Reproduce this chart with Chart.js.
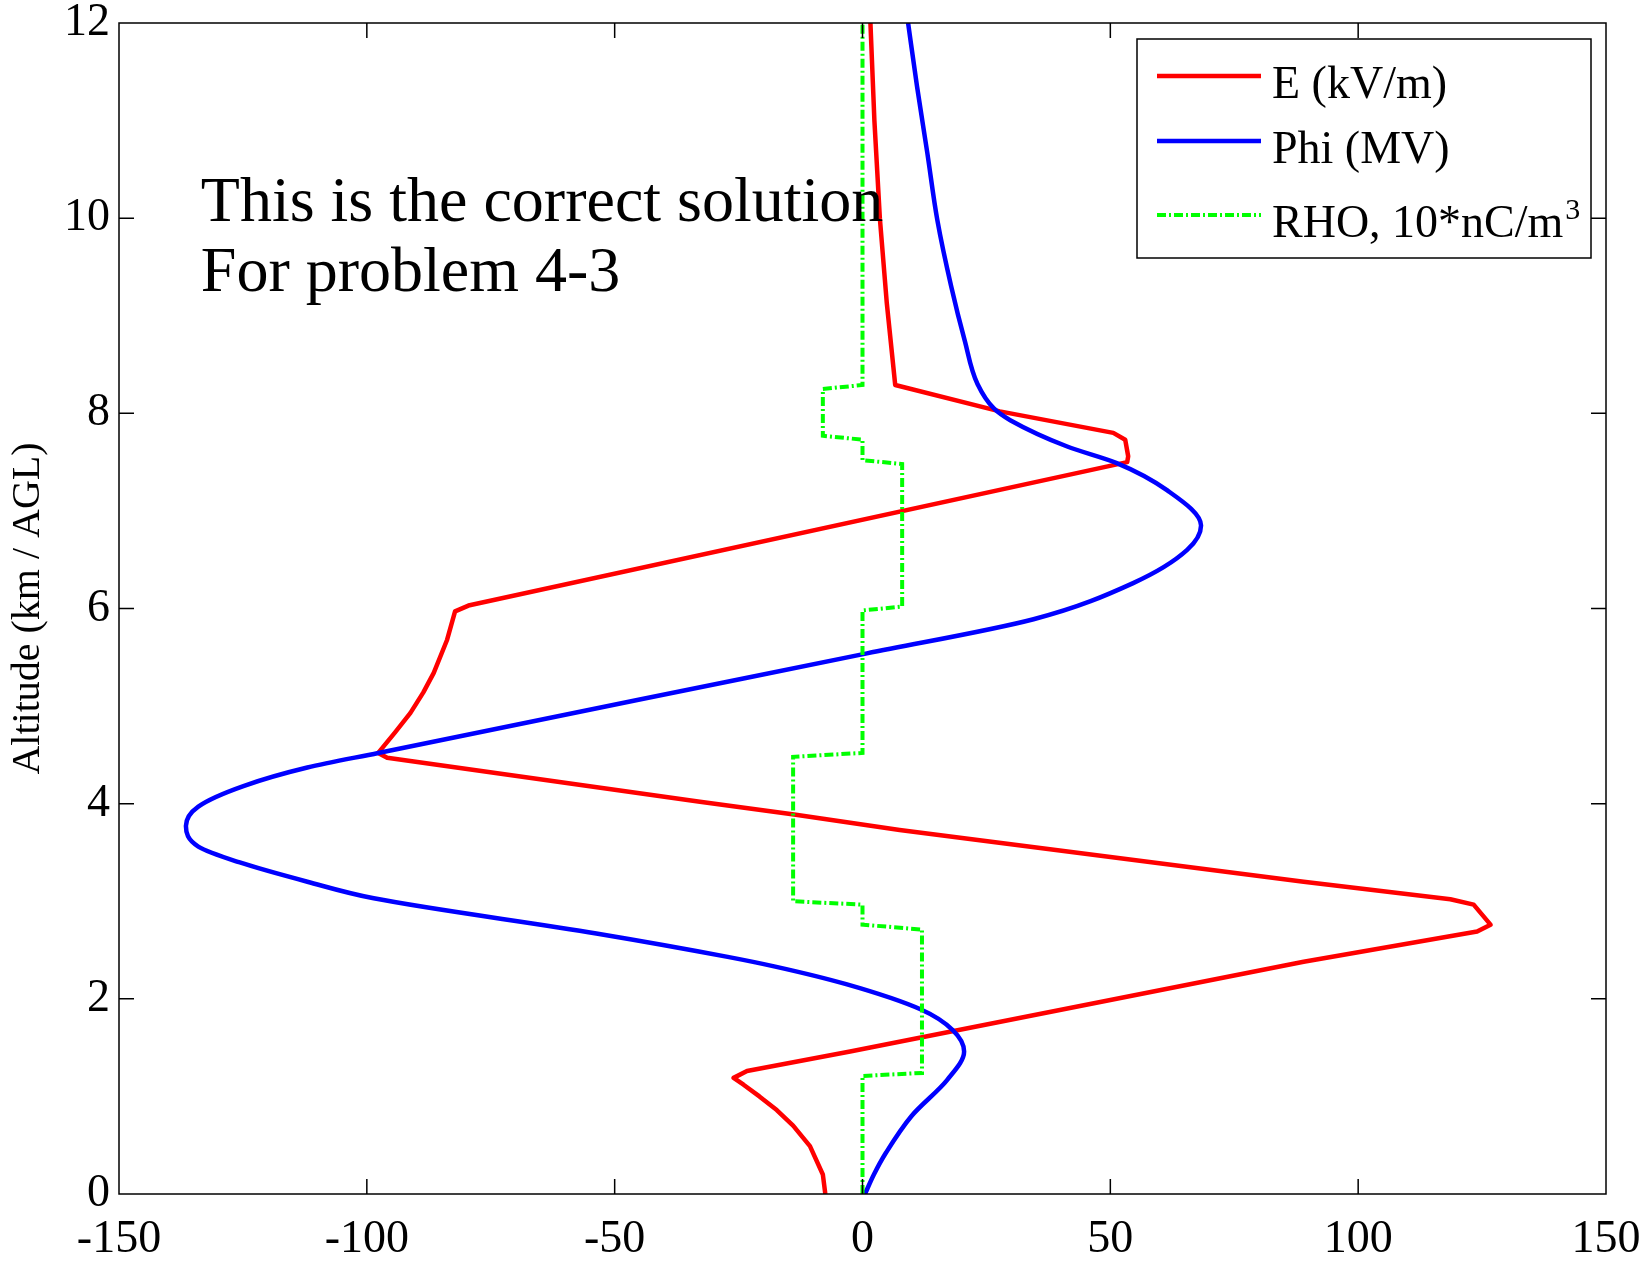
<!DOCTYPE html>
<html>
<head>
<meta charset="utf-8">
<title>Problem 4-3</title>
<script src="https://cdn.jsdelivr.net/npm/chart.js@4.4.1/dist/chart.umd.min.js"></script>
<style>
  html, body { margin: 0; padding: 0; background: #fff; }
  canvas { display: block; }
</style>
</head>
<body>
<canvas id="field_chart" width="1650" height="1263"></canvas>
<script>
// ---------- values (altitude in km / value on x) ----------
const eAlt = [0, 0.2, 0.49, 0.7, 0.86, 1.0, 1.12, 1.19, 1.26, 1.46, 2.38, 2.69, 2.76, 2.965, 3.02, 3.2, 3.73, 3.89, 4.02, 4.47, 4.52, 4.73, 4.93, 5.14, 5.34, 5.68, 5.97, 6.03, 7.5, 7.56, 7.73, 7.8, 8.02, 8.29, 9.13, 10, 11, 12];
const eVal = [-7.5, -8.0, -10.6, -14.0, -17.3, -20.8, -24.0, -26.0, -23.3, -2.5, 89.0, 124.0, 126.7, 123.3, 118.6, 89.0, 7.5, -13.8, -32.8, -95.9, -97.7, -94.3, -91.2, -88.6, -86.5, -83.8, -82.2, -79.5, 53.4, 53.6, 53.0, 50.6, 27.7, 6.6, 4.9, 3.5, 2.4, 1.6];

const phiAlt = [0, 0.2, 0.42, 0.8, 1.17, 1.46, 1.68, 1.89, 2.15, 2.33, 2.43, 2.67, 3.03, 3.2, 3.4, 3.56, 3.77, 3.97, 4.18, 4.37, 4.52, 5.07, 5.54, 5.89, 6.26, 6.6, 6.85, 7.21, 7.49, 7.66, 7.93, 8.05, 8.3, 8.75, 9.3, 9.98, 10.66, 11.35, 12];
const phiVal = [0.5, 2.3, 4.7, 9.9, 17.1, 20.5, 18.2, 11.8, -3.3, -17.6, -27.2, -53.7, -98.6, -112.0, -125.8, -134.0, -136.5, -134.0, -124.9, -112.0, -97.7, -44.7, 0.9, 34.5, 54.6, 65.5, 68.3, 61.5, 51.3, 41.3, 29.8, 26.5, 23.2, 20.6, 17.9, 15.1, 13.1, 11.0, 9.2];

const rhoAlt = [0, 1.21, 1.24, 2.71, 2.76, 2.965, 3.0, 4.48, 4.52, 5.98, 6.02, 7.48, 7.52, 7.73, 7.77, 8.25, 8.29, 12];
const rhoVal = [0, 0, 12, 12, 0, 0, -14, -14, 0, 0, 8, 8, 0, 0, -8, -8, 0, 0];

const xTicks = [-150, -100, -50, 0, 50, 100, 150];
const yTicks = [0, 2, 4, 6, 8, 10, 12];

const noteLines = ['This is the correct solution', 'For problem 4-3'];

const serif = '"Liberation Serif", "Times New Roman", serif';
Chart.defaults.font.family = serif;
Chart.defaults.color = '#000';

const toPoints = (alts, vals) => alts.map((a, i) => ({ x: vals[i], y: a }));

// MATLAB-like box with inward ticks
const boxTicks = {
    id: 'boxTicks',
    afterDatasetsDraw(chart) {
        const { ctx, chartArea: a, scales: { x, y } } = chart;
        const len = 15;
        ctx.save();
        ctx.strokeStyle = '#000';
        ctx.lineWidth = 1.5;
        ctx.beginPath();
        x.ticks.forEach(t => {
            if (t.value === x.min || t.value === x.max) return;
            const px = x.getPixelForValue(t.value);
            ctx.moveTo(px, a.bottom); ctx.lineTo(px, a.bottom - len);
            ctx.moveTo(px, a.top); ctx.lineTo(px, a.top + len);
        });
        y.ticks.forEach(t => {
            if (t.value === y.min || t.value === y.max) return;
            const py = y.getPixelForValue(t.value);
            ctx.moveTo(a.left, py); ctx.lineTo(a.left + len, py);
            ctx.moveTo(a.right, py); ctx.lineTo(a.right - len, py);
        });
        ctx.stroke();
        ctx.strokeRect(a.left, a.top, a.right - a.left, a.bottom - a.top);
        ctx.restore();
    }
};

// text note + legend box in the upper right corner
const noteAndLegend = {
    id: 'noteAndLegend',
    afterDraw(chart) {
        const { ctx, chartArea: a, scales: { x, y } } = chart;
        ctx.save();
        ctx.fillStyle = '#000';
        ctx.textBaseline = 'alphabetic';
        ctx.font = '64px ' + serif;
        noteLines.forEach((s, i) => {
            ctx.fillText(s, x.getPixelForValue(-133.5), y.getPixelForValue(10) + 3 + i * 70);
        });

        const bx = a.right - 469, by = a.top + 16, bw = 454, bh = 219;
        ctx.fillStyle = '#fff';
        ctx.fillRect(bx, by, bw, bh);
        ctx.strokeStyle = '#000';
        ctx.lineWidth = 1.5;
        ctx.strokeRect(bx, by, bw, bh);

        const rows = [59, 124, 198];
        chart.data.datasets.forEach((ds, i) => {
            const base = by + rows[i];
            ctx.strokeStyle = ds.borderColor;
            ctx.lineWidth = ds.borderWidth;
            ctx.setLineDash(ds.borderDash || []);
            ctx.beginPath();
            ctx.moveTo(bx + 20, base - 22);
            ctx.lineTo(bx + 124, base - 22);
            ctx.stroke();
            ctx.setLineDash([]);
            ctx.fillStyle = '#000';
            ctx.font = '46px ' + serif;
            let txt = ds.label, sup = '';
            if (txt.endsWith('³')) { txt = txt.slice(0, -1); sup = '3'; }
            ctx.fillText(txt, bx + 135, base);
            if (sup) {
                const w = ctx.measureText(txt).width;
                ctx.font = '30px ' + serif;
                ctx.fillText(sup, bx + 135 + w + 2, base - 18);
            }
        });
        ctx.restore();
    }
};

new Chart(document.getElementById('field_chart'), {
    type: 'scatter',
    data: {
        datasets: [{
            label: 'E (kV/m)',
            data: toPoints(eAlt, eVal),
            showLine: true,
            borderColor: '#ff0000',
            borderWidth: 4.5,
            pointRadius: 0,
            tension: 0,
            borderJoinStyle: 'round',
            order: 3
        }, {
            label: 'Phi (MV)',
            data: toPoints(phiAlt, phiVal),
            showLine: true,
            indexAxis: 'y',
            cubicInterpolationMode: 'monotone',
            borderColor: '#0000ff',
            borderWidth: 4.5,
            pointRadius: 0,
            borderJoinStyle: 'round',
            order: 2
        }, {
            label: 'RHO, 10*nC/m³',
            data: toPoints(rhoAlt, rhoVal),
            showLine: true,
            borderColor: '#00ff00',
            borderWidth: 4,
            borderDash: [9, 3, 2, 3],
            pointRadius: 0,
            tension: 0,
            order: 1
        }]
    },
    options: {
        responsive: false,
        animation: false,
        devicePixelRatio: 1,
        layout: { padding: { top: 23, right: 44, left: 0, bottom: 0 } },
        plugins: { legend: { display: false }, tooltip: { enabled: false } },
        scales: {
            x: {
                type: 'linear',
                min: -150,
                max: 150,
                afterBuildTicks: s => { s.ticks = xTicks.map(v => ({ value: v })); },
                afterFit: s => { s.height = 69; },
                grid: { display: false, drawTicks: false },
                border: { display: false },
                ticks: { color: '#000', font: { size: 46, lineHeight: 1.6 }, padding: 9, maxRotation: 0, autoSkip: false }
            },
            y: {
                type: 'linear',
                min: 0,
                max: 12,
                afterBuildTicks: s => { s.ticks = yTicks.map(v => ({ value: v })); },
                afterFit: s => { s.width = 119; },
                grid: { display: false, drawTicks: false },
                border: { display: false },
                ticks: { color: '#000', font: { size: 46, lineHeight: 0.5 }, padding: 9, autoSkip: false },
                title: { display: true, text: 'Altitude (km / AGL)', color: '#000', font: { size: 40 }, padding: { top: 4, bottom: 0 } }
            }
        }
    },
    plugins: [boxTicks, noteAndLegend]
});
</script>
</body>
</html>
